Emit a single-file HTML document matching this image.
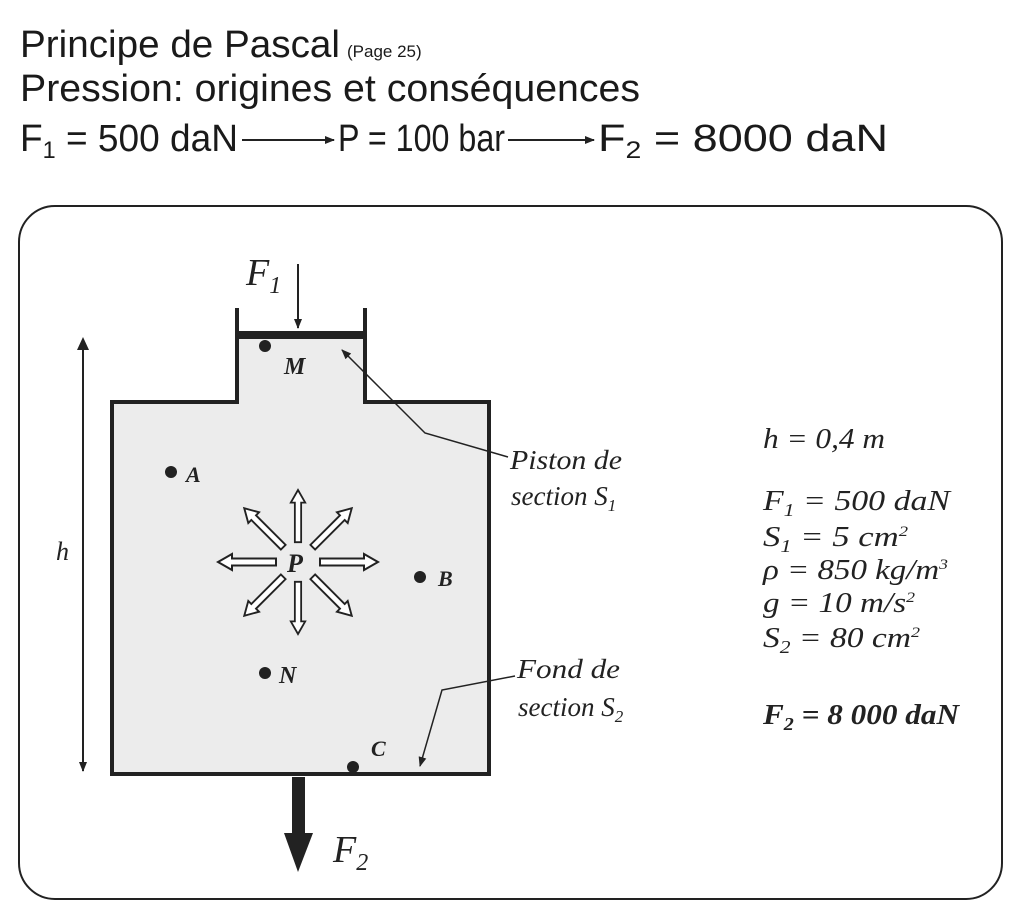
<!DOCTYPE html>
<html><head><meta charset="utf-8"><style>
body{margin:0;background:#fff;}
svg{display:block}
.t{font-family:"Liberation Sans",sans-serif;fill:#1a1a1a}
.i{font-family:"Liberation Serif",serif;font-style:italic;fill:#222}
</style></head><body>
<svg width="1024" height="920" viewBox="0 0 1024 920">
<defs>
<marker id="ah" markerWidth="10" markerHeight="10" refX="9" refY="5" orient="auto" markerUnits="userSpaceOnUse"><path d="M0,1 L10,5 L0,9 Z" fill="#222"/></marker>
<g id="ha"><polygon points="22,-3.5 66,-3.5 66,-8 80,0 66,8 66,3.5 22,3.5" fill="#fff" stroke="#222" stroke-width="2"/></g>
</defs>
<text class="t" x="20" y="57" font-size="38" textLength="320" lengthAdjust="spacingAndGlyphs">Principe de Pascal</text>
<text class="t" x="347" y="57" font-size="17">(Page 25)</text>
<text class="t" x="20" y="101" font-size="38" textLength="620" lengthAdjust="spacingAndGlyphs">Pression: origines et conséquences</text>
<text class="t" x="20" y="151" font-size="38" textLength="218" lengthAdjust="spacingAndGlyphs">F<tspan font-size="24" dy="7">1</tspan><tspan dy="-7"> = 500 daN</tspan></text>
<line x1="242" y1="140" x2="334" y2="140" stroke="#222" stroke-width="2" marker-end="url(#ah)"/>
<text class="t" x="338" y="151" font-size="38" textLength="167" lengthAdjust="spacingAndGlyphs">P = 100 bar</text>
<line x1="508" y1="140" x2="594" y2="140" stroke="#222" stroke-width="2" marker-end="url(#ah)"/>
<text class="t" x="598" y="151" font-size="38" textLength="290" lengthAdjust="spacingAndGlyphs">F<tspan font-size="24" dy="7">2</tspan><tspan dy="-7"> = 8000 daN</tspan></text>

<rect x="19" y="206" width="983" height="693" rx="36" fill="none" stroke="#222" stroke-width="2"/>

<path d="M112,402 H237 V333 H365 V402 H489 V774 H112 Z" fill="#ececec" stroke="#222" stroke-width="4"/>
<line x1="237" y1="308" x2="237" y2="340" stroke="#222" stroke-width="4"/>
<line x1="365" y1="308" x2="365" y2="340" stroke="#222" stroke-width="4"/>
<rect x="237" y="331" width="128" height="8" fill="#222"/>

<text class="i" x="246" y="285" font-size="38">F<tspan font-size="24" dy="8">1</tspan></text>
<line x1="298" y1="264" x2="298" y2="328" stroke="#222" stroke-width="2" marker-end="url(#ah)"/>

<line x1="83" y1="340" x2="83" y2="771" stroke="#222" stroke-width="2" marker-end="url(#ah)"/>
<path d="M77,350 L83,337 L89,350 Z" fill="#222"/>
<text class="i" x="56" y="560" font-size="26">h</text>

<circle cx="265" cy="346" r="6" fill="#222"/><text class="i" x="284" y="374" font-size="24" font-weight="bold">M</text>
<circle cx="171" cy="472" r="6" fill="#222"/><text class="i" x="186" y="482" font-size="22" font-weight="bold">A</text>
<circle cx="420" cy="577" r="6" fill="#222"/><text class="i" x="438" y="586" font-size="22" font-weight="bold">B</text>
<circle cx="265" cy="673" r="6" fill="#222"/><text class="i" x="279" y="683" font-size="24" font-weight="bold">N</text>
<circle cx="353" cy="767" r="6" fill="#222"/><text class="i" x="371" y="756" font-size="22" font-weight="bold">C</text>

<g transform="translate(298,562)">
<use href="#ha"/>
<use href="#ha" transform="rotate(180)"/>
<use href="#ha" transform="rotate(90) scale(0.9)"/>
<use href="#ha" transform="rotate(-90) scale(0.9)"/>
<use href="#ha" transform="rotate(45) scale(0.95)"/>
<use href="#ha" transform="rotate(135) scale(0.95)"/>
<use href="#ha" transform="rotate(-45) scale(0.95)"/>
<use href="#ha" transform="rotate(-135) scale(0.95)"/>
</g>
<text class="i" x="287" y="572" font-size="26" font-weight="bold">P</text>

<rect x="292" y="777" width="13" height="60" fill="#222"/>
<path d="M284,833 L313,833 L298,872 Z" fill="#222"/>
<text class="i" x="333" y="862" font-size="38">F<tspan font-size="24" dy="8">2</tspan></text>

<polyline points="508,457 425,433 342,350" fill="none" stroke="#222" stroke-width="1.5" marker-end="url(#ah)"/>
<polyline points="515,676 442,690 420,766" fill="none" stroke="#222" stroke-width="1.5" marker-end="url(#ah)"/>

<g class="i" font-size="27">
<text x="510" y="469" textLength="112" lengthAdjust="spacingAndGlyphs">Piston de</text>
<text x="511" y="505">section S<tspan font-size="17" dy="6">1</tspan></text>
<text x="517" y="678" textLength="103" lengthAdjust="spacingAndGlyphs">Fond de</text>
<text x="518" y="716">section S<tspan font-size="17" dy="6">2</tspan></text>
</g>

<g class="i" font-size="28">
<text x="763" y="448" textLength="122" lengthAdjust="spacingAndGlyphs">h = 0,4 m</text>
<text x="763" y="510" textLength="187" lengthAdjust="spacingAndGlyphs">F<tspan font-size="18" dy="6">1</tspan><tspan dy="-6"> = 500 daN</tspan></text>
<text x="763" y="546" textLength="145" lengthAdjust="spacingAndGlyphs">S<tspan font-size="18" dy="6">1</tspan><tspan dy="-6"> = 5 cm</tspan><tspan font-size="15" dy="-10">2</tspan></text>
<text x="763" y="579" textLength="185" lengthAdjust="spacingAndGlyphs">ρ = 850 kg/m<tspan font-size="15" dy="-10">3</tspan></text>
<text x="763" y="612" textLength="152" lengthAdjust="spacingAndGlyphs">g = 10 m/s<tspan font-size="15" dy="-10">2</tspan></text>
<text x="763" y="647" textLength="157" lengthAdjust="spacingAndGlyphs">S<tspan font-size="18" dy="6">2</tspan><tspan dy="-6"> = 80 cm</tspan><tspan font-size="15" dy="-10">2</tspan></text>
<text x="763" y="724" font-weight="bold" textLength="196" lengthAdjust="spacingAndGlyphs">F<tspan font-size="18" dy="6">2</tspan><tspan dy="-6"> = 8 000 daN</tspan></text>
</g>
</svg>
</body></html>
